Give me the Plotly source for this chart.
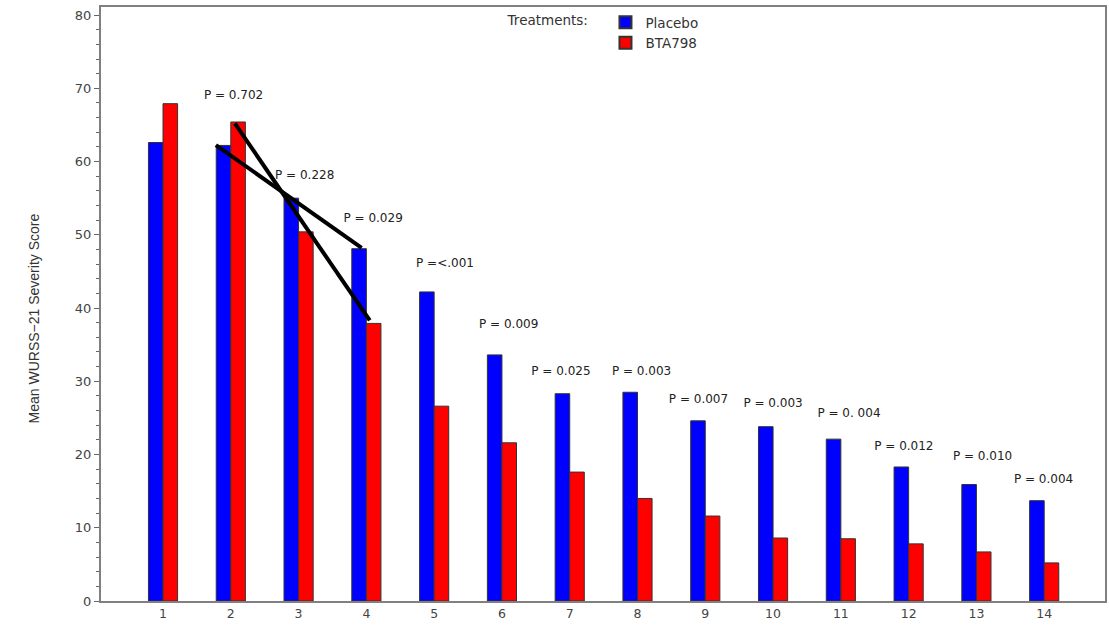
import plotly.graph_objects as go

days = list(range(1, 15))
placebo = [62.6, 62.2, 55.0, 48.1, 42.2, 33.6, 28.3, 28.5, 24.6, 23.8, 22.1, 18.3, 15.9, 13.7]
bta798 = [67.9, 65.4, 50.4, 37.9, 26.6, 21.6, 17.6, 14.0, 11.6, 8.6, 8.5, 7.8, 6.7, 5.2]

p_labels = ["P = 0.702", "P = 0.228", "P = 0.029", "P =<.001", "P = 0.009", "P = 0.025",
            "P = 0.003", "P = 0.007", "P = 0.003", "P = 0. 004", "P = 0.012", "P = 0.010",
            "P = 0.004"]
p_x = [2.04, 3.09, 4.10, 5.16, 6.10, 6.87, 8.06, 8.90, 10.0, 11.12, 11.93, 13.09, 13.99]
p_y = [68.9, 58.0, 52.2, 46.0, 37.7, 31.3, 31.3, 27.4, 26.9, 25.5, 21.0, 19.7, 16.5]

# trend lines drawn across bar tops (x, y endpoints)
line1_x = [1.78, 3.93]
line1_y = [62.25, 48.2]
line2_x = [2.06, 4.05]
line2_y = [65.2, 38.3]

font_main = "DejaVu Sans"
grey = "#808080"
txt = "#444444"

fig = go.Figure()
fig.add_trace(go.Bar(x=days, y=placebo, name="Placebo", width=0.215, offset=-0.215,
                     marker=dict(color="#0000FF", line=dict(color="#333333", width=1))))
fig.add_trace(go.Bar(x=days, y=bta798, name="BTA798", width=0.215, offset=0,
                     marker=dict(color="#FF0000", line=dict(color="#333333", width=1))))
fig.add_trace(go.Scatter(x=line1_x, y=line1_y, mode="lines", showlegend=False,
                         line=dict(color="black", width=4)))
fig.add_trace(go.Scatter(x=line2_x, y=line2_y, mode="lines", showlegend=False,
                         line=dict(color="black", width=4)))
fig.add_trace(go.Scatter(x=p_x, y=p_y, mode="text", text=p_labels, showlegend=False,
                         textfont=dict(family=font_main, size=12, color="#222222")))

fig.add_annotation(text="Mean WURSS\u221221 Severity Score", textangle=-90,
                   xref="paper", yref="paper", x=-0.0765, y=0.476, showarrow=False,
                   font=dict(family="Liberation Sans", size=14, color="#333333"))

fig.update_layout(
    width=1109, height=630,
    margin=dict(l=101, r=2, t=7, b=29),
    plot_bgcolor="white", paper_bgcolor="white",
    barmode="overlay",
    font=dict(family=font_main, color=txt),
    legend=dict(orientation="v", x=0.403, y=1.0, xanchor="left", yanchor="top",
                title=dict(text="Treatments:  ", side="left", font=dict(size=13.5, color="#333333")),
                font=dict(size=13.5, color="#333333"), tracegroupgap=0,
                bgcolor="rgba(0,0,0,0)", itemsizing="constant"),
    xaxis=dict(range=[0.085, 14.897], tickmode="array", tickvals=days,
               ticktext=[str(d) for d in days], showline=True, linecolor=grey, linewidth=2,
               mirror=True, ticks="", showgrid=False, zeroline=False,
               tickfont=dict(size=12.5, color=txt)),
    yaxis=dict(range=[0, 81.1], tickvals=[0, 10, 20, 30, 40, 50, 60, 70, 80],
               showline=True, linecolor=grey, linewidth=2, mirror=True,
               ticks="outside", ticklen=5, tickcolor="#666666",
               minor=dict(dtick=2, ticks="outside", ticklen=3, tickcolor="#666666"),
               showgrid=False, zeroline=False, tickfont=dict(size=13, color=txt)),
)

fig.write_html("out.html")
